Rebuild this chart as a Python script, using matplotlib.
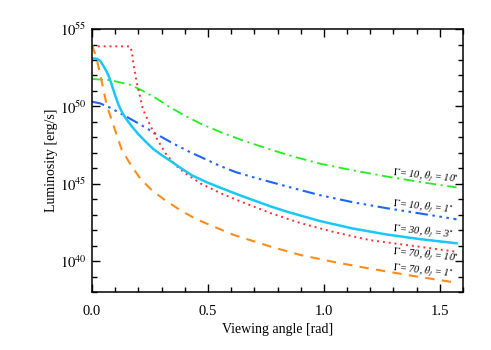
import numpy as np
import matplotlib
matplotlib.use("Agg")
import matplotlib.pyplot as plt

plt.rcParams['font.family'] = ['Liberation Serif', 'DejaVu Serif']
plt.rcParams['mathtext.fontset'] = 'stix'

# Data: viewing angle [rad] and log10 luminosity [erg/s]
green_x = [0.0, 0.078, 0.164, 0.22, 0.279, 0.33, 0.394, 0.47, 0.552, 0.65, 0.767, 0.87, 0.983, 1.12, 1.27, 1.42, 1.572]
green_logL = [51.77, 51.7, 51.4, 51.0, 50.5, 50.0, 49.45, 48.87, 48.35, 47.8, 47.22, 46.75, 46.3, 45.88, 45.47, 45.1, 44.76]

blue_x = [0.0, 0.034, 0.08, 0.135, 0.2, 0.279, 0.35, 0.422, 0.509, 0.552, 0.62, 0.7, 0.839, 0.98, 1.126, 1.27, 1.414, 1.572]
blue_logL = [50.3, 50.2, 49.9, 49.45, 48.9, 48.2, 47.6, 47.05, 46.45, 46.15, 45.75, 45.4, 44.83, 44.27, 43.8, 43.42, 43.08, 42.7]

cyan_x = [0.0, 0.02, 0.035, 0.05, 0.063, 0.075, 0.085, 0.1, 0.113, 0.127, 0.14, 0.164, 0.2, 0.236, 0.264, 0.3, 0.336, 0.379, 0.43, 0.494, 0.552, 0.638, 0.767, 0.839, 0.98, 1.126, 1.27, 1.414, 1.572]
cyan_logL = [53.1, 53.08, 52.95, 52.6, 52.25, 51.85, 51.4, 50.7, 50.15, 49.7, 49.35, 48.85, 48.2, 47.65, 47.25, 46.85, 46.5, 46.05, 45.55, 45.1, 44.75, 44.25, 43.55, 43.2, 42.6, 42.1, 41.72, 41.42, 41.15]

red_x = [0.0, 0.165, 0.172, 0.18, 0.195, 0.22, 0.25, 0.28, 0.32, 0.36, 0.40, 0.47, 0.56, 0.65, 0.77, 0.9, 1.05, 1.2, 1.4, 1.572]
red_logL = [53.88, 53.88, 53.5, 52.6, 51.4, 49.8, 48.8, 47.9, 46.9, 46.2, 45.7, 45.0, 44.35, 43.8, 43.1, 42.45, 41.85, 41.35, 40.95, 40.6]

orange_x = [0.0, 0.02, 0.042, 0.063, 0.092, 0.128, 0.164, 0.207, 0.26, 0.322, 0.385, 0.451, 0.53, 0.609, 0.767, 0.897, 1.04, 1.184, 1.38, 1.572]
orange_logL = [53.96, 53.1, 51.6, 50.1, 48.8, 47.2, 46.3, 45.35, 44.55, 43.86, 43.25, 42.7, 42.2, 41.7, 40.95, 40.4, 39.95, 39.55, 39.05, 38.6]

labels = [r'$\mathit{\Gamma}$= 10, $\theta_j$ = 10$^{\circ}$',
          r'$\mathit{\Gamma}$= 10, $\theta_j$ = 1$^{\circ}$',
          r'$\mathit{\Gamma}$= 30, $\theta_j$ = 3$^{\circ}$',
          r'$\mathit{\Gamma}$= 70, $\theta_j$ = 10$^{\circ}$',
          r'$\mathit{\Gamma}$= 70, $\theta_j$ = 1$^{\circ}$']
label_x = [1.297, 1.297, 1.297, 1.297, 1.297]
label_logL = [45.55, 43.5, 41.88, 40.45, 39.42]

fig = plt.figure(figsize=(4.91, 3.5), dpi=100)
ax = fig.add_axes([0.1874, 0.1657, 0.7556, 0.7513])

ax.plot(green_x, 10**np.array(green_logL), color='#22ee22', lw=1.3, dashes=(6, 2.5, 1.2, 2.5))
ax.plot(blue_x, 10**np.array(blue_logL), color='#1e64ff', lw=1.5,
        dashes=(6, 2.2, 1.2, 2.2, 1.2, 2.2, 1.2, 2.2))
ax.plot(red_x, 10**np.array(red_logL), color='#ff3030', lw=1.4, dashes=(1.0, 2.0))
ax.plot(cyan_x, 10**np.array(cyan_logL), color='#19c8f5', lw=1.8)
ax.plot(orange_x, 10**np.array(orange_logL), color='#ff8c1a', lw=1.5, dashes=(4.5, 3.5))

for t, lx, ly in zip(labels, label_x, label_logL):
    ax.text(lx, 10**ly, t, fontsize=7.5, style='italic', rotation=-6,
            rotation_mode='anchor', ha='left', va='baseline', color='black')

ax.set_yscale('log')
ax.set_xlim(0, 1.6)
ax.set_ylim(1e38, 1e55)
ax.set_yticks([1e40, 1e45, 1e50, 1e55])
ax.set_yticklabels([r'$10^{40}$', r'$10^{45}$', r'$10^{50}$', r'$10^{55}$'])
ax.set_yticks([10.0**k for k in range(38, 56)], minor=True)
ax.set_yticklabels([], minor=True)
ax.set_xticks([0.0, 0.5, 1.0, 1.5])
ax.set_xticklabels(['0.0', '0.5', '1.0', '1.5'])
ax.set_xticks(np.arange(0, 1.61, 0.1), minor=True)

ax.tick_params(which='both', direction='in', top=True, right=True, labelsize=10.5)
ax.tick_params(axis='x', which='major', length=6, width=1, pad=9)
ax.tick_params(axis='y', which='major', length=6, width=1, pad=4)
ax.tick_params(which='minor', length=3.5, width=1)
for s in ax.spines.values():
    s.set_linewidth(1.1)

ax.set_xlabel('Viewing angle [rad]', fontsize=10, labelpad=4)
ax.set_ylabel('Luminosity [erg/s]', fontsize=10, labelpad=1)

fig.savefig('out.png', dpi=100)
